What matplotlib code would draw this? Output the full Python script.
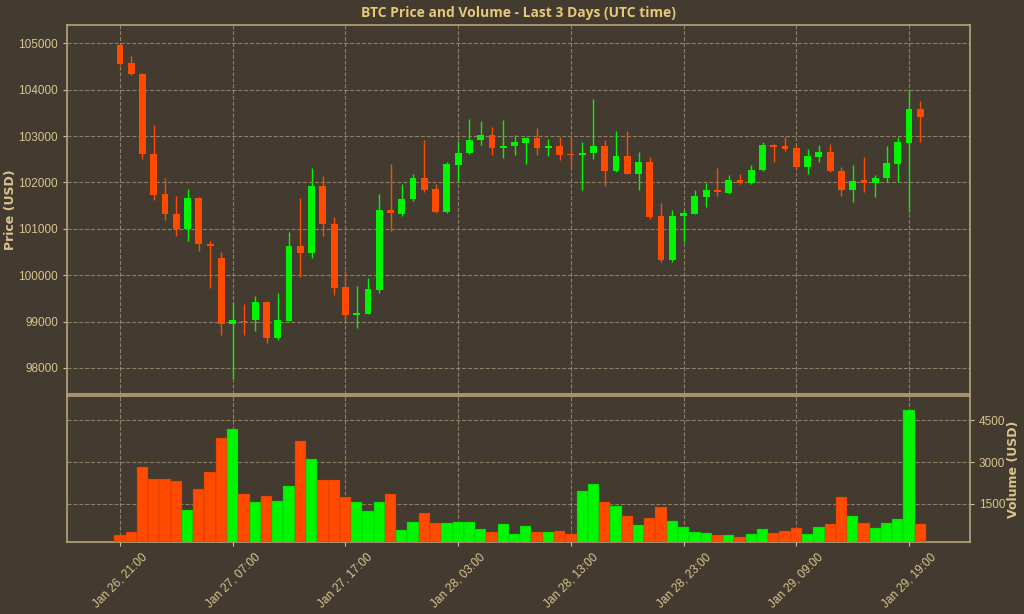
import numpy as np
import pandas as pd
import matplotlib
matplotlib.use('Agg')
import matplotlib.pyplot as plt

# hourly candles, Jan 26 21:00 -> Jan 29 20:00 (UTC)
times = pd.date_range('2025-01-26 21:00', periods=72, freq='h')

opens = [104970, 104570, 104340, 102617, 101740, 101325, 100994, 101669, 100680, 100377,
         98956, 99020, 99027, 99422, 98654, 99020, 100621, 100487, 101924, 101109,
         99745, 99149, 99171, 99688, 101396, 101325, 101633, 102093, 101863, 101363,
         102386, 102631, 102904, 103026, 102739, 102796, 102846, 102961, 102739, 102775,
         102617, 102595, 102631, 102789, 102244, 102576, 102186, 102430, 101267, 100320,
         101267, 101325, 101683, 101842, 101777, 102043, 101992, 102258, 102810, 102775,
         102739, 102330, 102545, 102653, 102236, 101827, 102043, 101985, 102093, 102401,
         102846, 103586]
highs = [104985, 104734, 104360, 103241, 102093, 101698, 101848, 101680, 100736, 100499,
         99422, 99372, 99544, 99440, 99623, 100922, 101662, 102312, 102128, 101253,
         100089, 99760, 99946, 101741, 102401, 101971, 102186, 102904, 101971, 102437,
         102890, 103370, 103334, 103205, 103349, 103026, 102980, 103177, 102940, 102976,
         102976, 102882, 103801, 102904, 103098, 103119, 102653, 102545, 101554, 101396,
         101396, 101827, 101985, 102315, 102150, 102186, 102380, 102868, 102820, 102990,
         102796, 102724, 102810, 102818, 102330, 102380, 102545, 102150, 102782, 102990,
         104017, 103765]
lows = [104540, 104320, 102509, 101626, 101181, 100844, 100740, 100520, 99724, 98719,
        97771, 98702, 98798, 98546, 98600, 99010, 99969, 100377, 100844, 99568,
        99042, 98870, 99160, 99617, 100962, 101281, 101610, 101791, 101350, 101340,
        102006, 102610, 102810, 102595, 102523, 102602, 102401, 102595, 102559, 102487,
        102330, 101827, 102509, 101913, 102222, 102172, 101827, 101217, 100284, 100284,
        100711, 101310, 101468, 101698, 101755, 101956, 101970, 102240, 102437, 102688,
        102315, 102172, 102437, 102222, 101698, 101576, 101791, 101683, 102006, 102006,
        101360, 102882]
closes = [104555, 104340, 102617, 101726, 101310, 100994, 101669, 100678, 100640, 98956,
          99042, 99000, 99422, 98654, 99027, 100621, 100487, 101924, 101109, 99731,
          99149, 99192, 99695, 101396, 101340, 101633, 102093, 101841, 101363, 102401,
          102638, 102918, 103026, 102739, 102796, 102868, 102961, 102739, 102775, 102595,
          102595, 102638, 102789, 102244, 102576, 102186, 102430, 101253, 100320, 101267,
          101339, 101705, 101842, 101784, 102043, 101992, 102272, 102810, 102760, 102710,
          102330, 102559, 102653, 102236, 101827, 102028, 101985, 102100, 102416, 102861,
          103586, 103420]
volumes = [393, 500, 2832, 2404, 2380, 2320, 1285, 2035, 2642, 3856,
           4190, 1845, 1583, 1785, 1595, 2154, 3749, 3106, 2344, 2344,
           1761, 1559, 1238, 1559, 1845, 547, 833, 1178, 809, 809,
           833, 833, 607, 476, 762, 428, 690, 476, 476, 535,
           417, 1963, 2213, 1559, 1404, 1059, 726, 988, 1380, 869,
           666, 500, 464, 381, 369, 321, 428, 583, 452, 524,
           631, 405, 655, 785, 1761, 1071, 821, 631, 821, 952,
           4879, 785]

bg = '#433b30'
tan = '#d9c48e'
title_c = '#e6c878'
spine_c = '#b8a47c'
grid_c = '#a8987a'
up_c = '#00f500'
down_c = '#ff4a00'

opens = np.array(opens)
closes = np.array(closes)
x = np.arange(len(times))
colors = [up_c if c >= o else down_c for o, c in zip(opens, closes)]

fig = plt.figure(figsize=(10.24, 6.14), dpi=100, facecolor=bg)
ax = fig.add_axes([0.0654, 0.358, 0.8818, 0.601], facecolor=bg)
axv = fig.add_axes([0.0654, 0.117, 0.8818, 0.238], facecolor=bg, sharex=ax)

# candles: wick + body
ax.vlines(x, lows, highs, colors=colors, linewidth=1, zorder=3)
body_bottom = np.minimum(opens, closes)
body_h = np.maximum(np.abs(closes - opens), 15)
ax.bar(x, body_h, bottom=body_bottom, width=0.6, color=colors, zorder=4)

# volume bars
edge = ['#b83400' if c == down_c else '#00b000' for c in colors]
axv.bar(x, volumes, width=1.0, color=colors, edgecolor=edge, linewidth=0.25, zorder=3)

ax.set_ylim(97435, 105390)
ax.set_yticks(np.arange(98000, 105001, 1000))
ax.set_xlim(-4.7, 75.4)
axv.set_ylim(120, 5380)
axv.set_yticks([1500, 3000, 4500])
axv.yaxis.tick_right()
axv.yaxis.set_label_position('right')

tick_pos = x[::10]
tick_lab = [t.strftime('%b %d, %H:%M') for t in times[::10]]
axv.set_xticks(tick_pos)
axv.set_xticklabels(tick_lab, rotation=45, ha='center')
plt.setp(ax.get_xticklabels(), visible=False)

for a in (ax, axv):
    a.grid(True, linestyle='--', color=grid_c, linewidth=0.8, alpha=0.75, zorder=0)
    a.set_axisbelow(True)
    for s in a.spines.values():
        s.set_color(spine_c)
        s.set_linewidth(1.2)
    a.tick_params(colors=tan, labelsize=8.5, length=3)
    for lab in a.get_xticklabels() + a.get_yticklabels():
        lab.set_fontfamily('Liberation Sans')
ax.tick_params(axis='x', length=0)

ax.set_ylabel('Price (USD)', color=tan, fontsize=9, fontweight='bold', labelpad=1)
axv.set_ylabel('Volume (USD)', color=tan, fontsize=9, fontweight='bold', labelpad=1)
ax.set_title('BTC Price and Volume - Last 3 Days (UTC time)', color=title_c,
             fontsize=10, fontweight='bold', family='Open Sans', pad=6)

fig.savefig('out.png', dpi=100, facecolor=bg)
